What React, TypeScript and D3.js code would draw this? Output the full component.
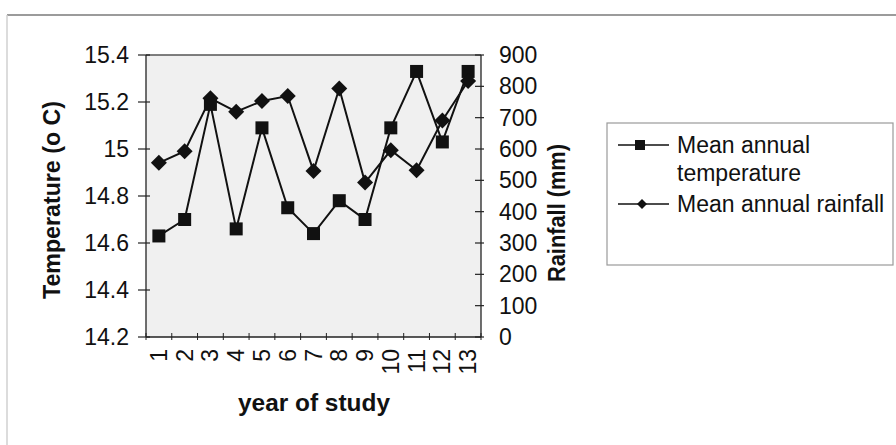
import React from "react";
import * as d3 from "d3";

// Study years (category axis)
const years: string[] = ["1", "2", "3", "4", "5", "6", "7", "8", "9", "10", "11", "12", "13"];

// Mean annual temperature (°C), left axis
const temperature: number[] = [14.63, 14.7, 15.19, 14.66, 15.09, 14.75, 14.64, 14.78, 14.7, 15.09, 15.33, 15.03, 15.33];

// Mean annual rainfall (mm), right axis
const rainfall: number[] = [556, 593, 762, 719, 753, 769, 530, 793, 493, 596, 532, 691, 817];

// Tick labels
const tempTicks: number[] = [14.2, 14.4, 14.6, 14.8, 15, 15.2, 15.4];
const rainTicks: number[] = [0, 100, 200, 300, 400, 500, 600, 700, 800, 900];

const seriesNames: string[][] = [["Mean annual", "temperature"], ["Mean annual rainfall"]];

const FONT = "'Liberation Sans', Arial, Helvetica, sans-serif";
const FS = 23;

export default function App() {
  const W = 896;
  const H = 445;
  const plot = { left: 146, right: 481, top: 55, bottom: 337 };

  const x = d3.scaleBand<string>().domain(years).range([plot.left, plot.right]);
  const yT = d3.scaleLinear().domain([14.2, 15.4]).range([plot.bottom, plot.top]);
  const yR = d3.scaleLinear().domain([0, 900]).range([plot.bottom, plot.top]);
  const cx = (i: number) => (x(years[i]) as number) + x.bandwidth() / 2;

  const tempLine = d3
    .line<number>()
    .x((_, i) => cx(i))
    .y((d) => yT(d))(temperature) as string;
  const rainLine = d3
    .line<number>()
    .x((_, i) => cx(i))
    .y((d) => yR(d))(rainfall) as string;

  const sq = 13;
  const dm = 8;
  const diamond = (px: number, py: number, r: number) =>
    `M${px},${py - r}L${px + r},${py}L${px},${py + r}L${px - r},${py}Z`;

  const boundaries = years.map((y) => x(y) as number).concat([plot.right]);

  return (
    <svg
      width={W}
      height={H}
      style={{ position: "absolute", left: 0, top: 0, background: "#fff" }}
      fontFamily={FONT}
    >
      {/* outer chart frame */}
      <line x1={7} y1={15} x2={W} y2={15} stroke="#7a7a7a" strokeWidth={1.5} />
      <line x1={7} y1={15} x2={7} y2={H} stroke="#d0d0d0" strokeWidth={1.5} />

      {/* plot area */}
      <rect
        x={plot.left}
        y={plot.top}
        width={plot.right - plot.left}
        height={plot.bottom - plot.top}
        fill="#f0f0f0"
      />
      <line x1={plot.left} y1={plot.top} x2={plot.right} y2={plot.top} stroke="#555" strokeWidth={1.3} />

      {/* left axis */}
      <line x1={plot.left} y1={plot.top} x2={plot.left} y2={plot.bottom} stroke="#222" strokeWidth={1.3} />
      {tempTicks.map((t) => (
        <g key={"tt" + t}>
          <line x1={plot.left - 8} x2={plot.left + 4} y1={yT(t)} y2={yT(t)} stroke="#222" strokeWidth={1.2} />
          <text x={129} y={yT(t)} dy="0.35em" textAnchor="end" fontSize={FS} fill="#111">
            {d3.format("~g")(t)}
          </text>
        </g>
      ))}

      {/* right axis */}
      <line x1={plot.right} y1={plot.top} x2={plot.right} y2={plot.bottom} stroke="#222" strokeWidth={1.3} />
      {rainTicks.map((t) => (
        <g key={"rt" + t}>
          <line x1={plot.right - 6} x2={plot.right + 3} y1={yR(t)} y2={yR(t)} stroke="#222" strokeWidth={1.2} />
          <text x={499} y={yR(t)} dy="0.35em" textAnchor="start" fontSize={FS} fill="#111">
            {t}
          </text>
        </g>
      ))}

      {/* category axis */}
      <line x1={plot.left} y1={plot.bottom} x2={plot.right} y2={plot.bottom} stroke="#222" strokeWidth={1.3} />
      {boundaries.map((b, i) => (
        <line key={"xb" + i} x1={b} x2={b} y1={plot.bottom - 4} y2={plot.bottom + 3} stroke="#222" strokeWidth={1} />
      ))}
      {years.map((y, i) => (
        <text
          key={"xl" + y}
          transform={`translate(${cx(i)},349) rotate(-90)`}
          dy="0.35em"
          textAnchor="end"
          fontSize={FS}
          fill="#111"
        >
          {y}
        </text>
      ))}

      {/* axis titles */}
      <text
        transform={`translate(52,200) rotate(-90)`}
        dy="0.35em"
        textAnchor="middle"
        fontSize={FS}
        fontWeight="bold"
        fill="#111"
        textLength={198}
        lengthAdjust="spacingAndGlyphs"
      >
        Temperature (o C)
      </text>
      <text
        transform={`translate(557,213) rotate(-90)`}
        dy="0.35em"
        textAnchor="middle"
        fontSize={FS}
        fontWeight="bold"
        fill="#111"
        textLength={138}
        lengthAdjust="spacingAndGlyphs"
      >
        Rainfall (mm)
      </text>
      <text
        x={314}
        y={411}
        textAnchor="middle"
        fontSize={FS}
        fontWeight="bold"
        fill="#111"
        textLength={152}
        lengthAdjust="spacingAndGlyphs"
      >
        year of study
      </text>

      {/* series lines */}
      <path d={tempLine} fill="none" stroke="#111" strokeWidth={2} />
      <path d={rainLine} fill="none" stroke="#111" strokeWidth={2} />

      {/* markers */}
      {temperature.map((v, i) => (
        <rect key={"ts" + i} x={cx(i) - sq / 2} y={yT(v) - sq / 2} width={sq} height={sq} fill="#111" />
      ))}
      {rainfall.map((v, i) => (
        <path key={"rd" + i} d={diamond(cx(i), yR(v), dm)} fill="#111" />
      ))}

      {/* legend */}
      <rect x={607} y={123} width={286} height={142} fill="#fff" stroke="#9a9a9a" strokeWidth={1.2} />
      <line x1={618} x2={669} y1={145} y2={145} stroke="#111" strokeWidth={1.5} />
      <rect x={635} y={140} width={10} height={10} fill="#111" />
      <text fontSize={FS} fill="#111">
        {seriesNames[0].map((s, i) => (
          <tspan key={"l0" + i} x={677} y={153 + i * 28}>
            {s}
          </tspan>
        ))}
      </text>
      <line x1={618} x2={669} y1={204} y2={204} stroke="#111" strokeWidth={1.5} />
      <path d={diamond(642, 204, 5)} fill="#111" />
      <text x={677} y={212} fontSize={FS} fill="#111">
        {seriesNames[1][0]}
      </text>
    </svg>
  );
}
